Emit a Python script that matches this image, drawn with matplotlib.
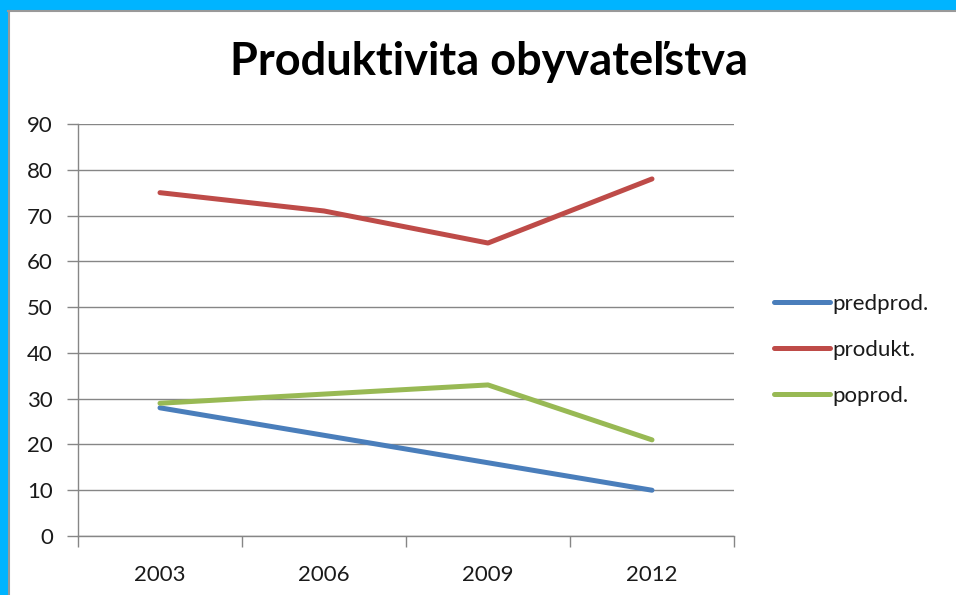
import matplotlib
matplotlib.use("Agg")
import matplotlib.pyplot as plt
from matplotlib.patches import Rectangle
from matplotlib.lines import Line2D

years = ["2003", "2006", "2009", "2012"]
predprod = [28, 22, 16, 10]
produkt = [75, 71, 64, 78]
poprod = [29, 31, 33, 21]
series_names = ["predprod.", "produkt.", "poprod."]
colors = ["#4A7EBB", "#BE4B48", "#98B954"]
title = "Produktivita obyvateľstva"
yticks = list(range(0, 100, 10))

plt.rcParams['font.family'] = ['Lato', 'DejaVu Sans']

W, H = 956, 595
fig = plt.figure(figsize=(W / 100, H / 100), dpi=100)
fig.patch.set_facecolor("white")

# frame: cyan strip top and left with grey inner line
fig.add_artist(Rectangle((0, (H - 10) / H), 1, 10 / H, transform=fig.transFigure,
                         facecolor="#00B4FF", edgecolor="none"))
fig.add_artist(Rectangle((0, 0), 8 / W, 1, transform=fig.transFigure,
                         facecolor="#00B4FF", edgecolor="none"))
fig.add_artist(Line2D([8 / W, 1], [(H - 11) / H, (H - 11) / H], transform=fig.transFigure,
                      color="#999999", lw=1.5))
fig.add_artist(Line2D([9 / W, 9 / W], [0, (H - 11) / H], transform=fig.transFigure,
                      color="#999999", lw=1.5))

left, right, top, bottom = 78, 734, 124, 536
ax = fig.add_axes([left / W, (H - bottom) / H, (right - left) / W, (bottom - top) / H])

xs = [i + 0.5 for i in range(len(years))]
for vals, name, c in zip([predprod, produkt, poprod], series_names, colors):
    ax.plot(xs, vals, color=c, lw=3.6, label=name, solid_capstyle="round", solid_joinstyle="round")

ax.set_xlim(0, len(years))
ax.set_ylim(0, 90)
ax.set_yticks(yticks)
ax.yaxis.grid(True, color="#868686", lw=1)
ax.set_axisbelow(True)
for s in ["top", "right"]:
    ax.spines[s].set_visible(False)
for s in ["left", "bottom"]:
    ax.spines[s].set_color("#868686")
    ax.spines[s].set_linewidth(1)

ax.set_xticks(range(len(years) + 1))
ax.set_xticklabels([])
ax.set_xticks(xs, minor=True)
ax.set_xticklabels(years, minor=True)
ax.tick_params(axis="x", which="major", length=8, color="#868686", width=1)
ax.tick_params(axis="x", which="minor", length=0, pad=21, labelsize=16, labelcolor="#1a1a1a")
ax.tick_params(axis="y", length=8, color="#868686", width=1, pad=10, labelsize=16, labelcolor="#1a1a1a")

fig.text(489 / W, (H - 62) / H, title, ha="center", va="center",
         fontsize=32.5, fontweight="bold", color="black")

leg = fig.legend(loc="center left", bbox_to_anchor=(754 / W, (H - 350) / H),
                 frameon=False, fontsize=16, handlelength=2.5, handletextpad=0.12,
                 labelspacing=1.18)
for t in leg.get_texts():
    t.set_color("#1a1a1a")

fig.savefig("out.png", dpi=100)
